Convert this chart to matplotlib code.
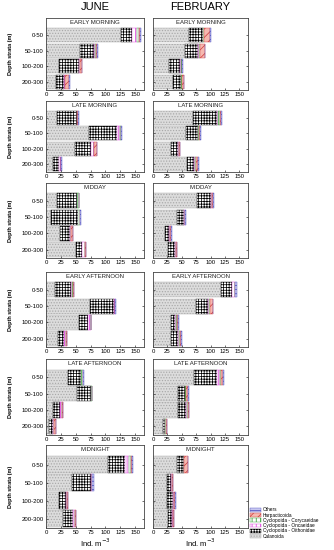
import matplotlib
matplotlib.use('Agg')
import matplotlib.pyplot as plt
import numpy as np
from matplotlib.patches import Patch

plt.rcParams['font.family'] = ['Liberation Sans', 'DejaVu Sans']
plt.rcParams['hatch.linewidth'] = 0.55

months = ['JUNE', 'FEBRUARY']
periods = ['EARLY MORNING', 'LATE MORNING', 'MIDDAY', 'EARLY AFTERNOON', 'LATE AFTERNOON', 'MIDNIGHT']
strata = ['0-50', '50-100', '100-200', '200-300']
taxa = ['Calanoida', 'Cyclopoida - Oithonidae', 'Cyclopoida - Oncaeidae',
        'Cyclopoida - Corycaeidae', 'Harpacticoida', 'Others']
xticks = [0, 25, 50, 75, 100, 125, 150]

# June, one row per period, one value per depth stratum
jun_calanoida = [[126, 57, 22, 16], [19, 73, 49, 12], [18, 8, 24, 51],
                 [15, 74, 56, 20], [37, 53, 12, 5], [104, 44, 22, 28]]
jun_oithonidae = [[18, 23, 33, 15], [33, 47, 26, 10], [34, 46, 16, 10],
                  [27, 41, 15, 10], [22, 23, 11, 7], [29, 32, 12, 18]]
jun_oncaeidae = [[9, 3, 1.5, 1], [0.5, 5, 5, 2.5], [0.5, 0.5, 2, 4],
                 [1, 0.5, 4, 4], [0.5, 0.5, 4, 1], [7, 1, 1, 3]]
jun_corycaeidae = [[3, 0.5, 0.5, 0.5], [0.5, 0.5, 0.5, 0.3], [3, 3, 0.3, 0.5],
                   [2.5, 0.5, 0.3, 0.3], [3, 0.5, 0.3, 0.3], [3.5, 0.5, 0.3, 0.3]]
jun_harpacticoida = [[2, 3, 3, 7], [0.5, 1.5, 5, 1], [0.5, 0.5, 3, 2],
                     [2, 0.5, 0.5, 0.3], [0.5, 0.5, 1, 3], [2, 0.5, 1.5, 1.5]]
jun_others = [[2, 0.5, 0.5, 0.5], [2, 1, 0.5, 0.3], [0.3, 0.3, 0.3, 0.3],
              [0.3, 1.5, 0.3, 0.3], [0.5, 0.5, 0.3, 0.5], [1.5, 2, 0.3, 0.5]]

# February
feb_calanoida = [[63, 56, 28, 34], [69, 57, 32, 59], [77, 41, 20, 26],
                 [118, 74, 31, 31], [72, 43, 43, 17], [42, 25, 24, 26]]
feb_oithonidae = [[23, 23, 19, 14], [43, 21, 12, 12], [24, 13, 8, 12],
                  [20, 22, 8, 13], [40, 12, 15, 4], [11, 7, 11, 7]]
feb_oncaeidae = [[1, 0.5, 2, 1], [0.5, 0.5, 0.3, 2], [1, 1.5, 2, 2],
                 [4, 0.5, 1, 2], [5, 0.5, 1, 0.5], [1, 0.3, 2, 1]]
feb_corycaeidae = [[1, 2, 0.5, 1], [3, 1.5, 0.3, 1], [1, 0.3, 0.3, 0.3],
                   [0.5, 3, 1, 0.5], [1, 2, 1, 1], [0.5, 1.5, 0.3, 0.3]]
feb_harpacticoida = [[11, 8, 1, 3.5], [3, 2, 2, 5], [2, 0.5, 1.5, 1.5],
                     [0.5, 5, 3, 2], [4, 4, 2, 1], [6, 1, 1.5, 2]]
feb_others = [[1, 0.5, 2, 0.5], [0.5, 0.5, 0.5, 0.5], [1, 1, 0.5, 0.5],
              [3, 0.5, 0.5, 1.5], [2, 0.5, 0.5, 0.3], [0.5, 0.5, 0.5, 0.5]]

data = {
    'JUNE': [jun_calanoida, jun_oithonidae, jun_oncaeidae, jun_corycaeidae, jun_harpacticoida, jun_others],
    'FEBRUARY': [feb_calanoida, feb_oithonidae, feb_oncaeidae, feb_corycaeidae, feb_harpacticoida, feb_others],
}

# face, hatch colour, hatch
styles = [
    ('#dcdcdc', '#a8a8a8', '......'),
    ('white', '#000000', '++++++'),
    ('white', '#e040e0', '||||'),
    ('white', '#30a030', '||||'),
    ('#f6b8b0', '#d04040', '////'),
    ('#c8c8f0', '#5050c0', '----'),
]

fig = plt.figure(figsize=(3.34, 5.5), dpi=100)

W, H = 334.0, 550.0
col_x = [(46, 98), (153, 95)]
row_y = [(18, 90), (101, 172), (183, 258), (272, 347), (359, 435), (445, 528)]

y = np.arange(len(strata))
for c, month in enumerate(months):
    for r, period in enumerate(periods):
        x0, w = col_x[c]
        t, b = row_y[r]
        ax = fig.add_axes([x0 / W, 1 - b / H, w / W, (b - t) / H])
        left = np.zeros(len(strata))
        for k, taxon in enumerate(taxa):
            vals = np.array(data[month][k][r], dtype=float)
            fc, hc, hatch = styles[k]
            ax.barh(y, vals, left=left, height=0.92, color=fc, edgecolor=hc,
                    hatch=hatch, linewidth=0.3)
            left += vals
        ax.set_xlim(0, 165)
        ax.set_ylim(3.52, -1.1)
        ax.set_xticks(xticks)
        ax.set_xticklabels([str(v) for v in xticks], fontsize=4.3)
        ax.set_yticks(y)
        if c == 0:
            ax.set_yticklabels(strata, fontsize=4.3)
            ax.set_ylabel('Depth strata (m)', fontsize=4, fontweight='bold', labelpad=6)
        else:
            ax.set_yticklabels([])
        ax.tick_params(axis='both', length=1.5, width=0.4, pad=1.5, direction='in',
                       right=True)
        for sp in ax.spines.values():
            sp.set_linewidth(0.6)
            sp.set_color('#444444')
        ax.text(0.5, 0.975, period, transform=ax.transAxes, ha='center', va='top',
                fontsize=4.3, color='#222222')
        if r == 0:
            ax.set_title(month, fontsize=8, pad=6)
        if r == len(periods) - 1:
            ax.set_xlabel('Ind. m$^{-3}$', fontsize=5.5, labelpad=1)

handles = [Patch(facecolor=styles[k][0], edgecolor=styles[k][1], hatch=styles[k][2],
                 linewidth=0.3, label=taxa[k]) for k in range(len(taxa))][::-1]
fig.legend(handles=handles, loc='lower left', bbox_to_anchor=(248 / W, 1 - 541 / H),
           fontsize=3.4, frameon=False, handlelength=2.2, handleheight=0.9,
           labelspacing=0.05, borderpad=0, handletextpad=0.4)

fig.savefig('out.png', dpi=100)
